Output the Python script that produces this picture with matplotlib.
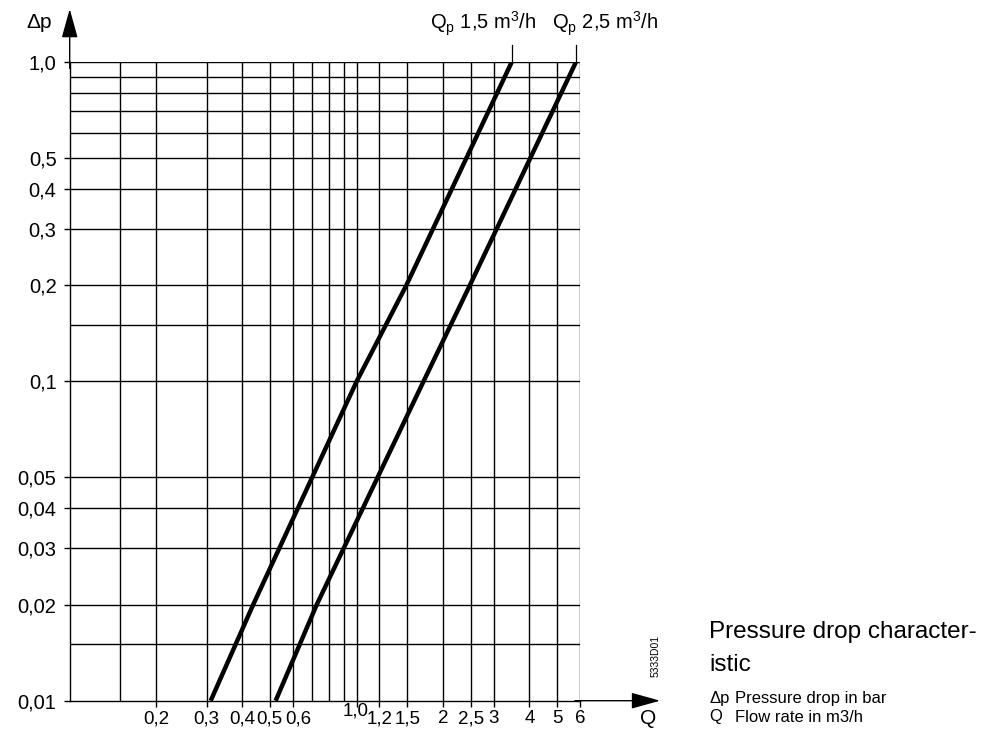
import matplotlib
matplotlib.use("Agg")
import matplotlib.pyplot as plt
import matplotlib.transforms as mtransforms

plt.rcParams["font.family"] = ["Liberation Sans", "DejaVu Sans"]

# Pressure drop levels (bar) and flow rates (m3/h)
dp_levels = [0.01, 0.02, 0.1, 0.2, 1.0]
q_15 = [0.31, 0.436, 1.0, 1.49, 3.47]
q_25 = [0.522, 0.726, 1.71, 2.48, 5.81]
curve_names = ["Q$_\\mathregular{p}$ 1,5 m$^\\mathregular{3}$/h",
               "Q$_\\mathregular{p}$ 2,5 m$^\\mathregular{3}$/h"]

# Grid lines
x_grid = [0.15, 0.2, 0.3, 0.4, 0.5, 0.6, 0.7, 0.8, 0.9, 1.0, 1.2, 1.5, 2, 2.5, 3, 4, 5, 6]
y_grid = [0.015, 0.02, 0.03, 0.04, 0.05, 0.1, 0.15, 0.2, 0.3, 0.4, 0.5, 0.6, 0.7, 0.8, 0.9, 1.0]

# Tick labels
x_ticks = [0.2, 0.3, 0.4, 0.5, 0.6, 1.0, 1.2, 1.5, 2, 2.5, 3, 4, 5, 6]
x_labels = ["0,2", "0,3", "0,4", "0,5", "0,6", "1,0", "1,2", "1,5", "2", "2,5", "3", "4", "5", "6"]
y_ticks = [0.01, 0.02, 0.03, 0.04, 0.05, 0.1, 0.2, 0.3, 0.4, 0.5, 1.0]
y_labels = ["0,01", "0,02", "0,03", "0,04", "0,05", "0,1", "0,2", "0,3", "0,4", "0,5", "1,0"]

W, H = 1003, 738
fig = plt.figure(figsize=(W / 100, H / 100), dpi=100)
ax = fig.add_axes([69.7 / W, 1 - 700.7 / H, 510.3 / W, 638.7 / H])
ax.set_xscale("log")
ax.set_yscale("log")
ax.set_xlim(0.1, 6)
ax.set_ylim(0.01, 1.0)

for side in ["top", "right"]:
    ax.spines[side].set_visible(False)
for side in ["left", "bottom"]:
    ax.spines[side].set_linewidth(1.0)

for x in x_grid:
    ax.axvline(x, color="black", lw=1.0, zorder=1)
for y in y_grid:
    ax.axhline(y, color="black", lw=1.0, zorder=1)

ax.set_xticks(x_ticks, x_labels, fontsize=13.5)
ax.set_yticks(y_ticks, y_labels, fontsize=14.5)
ax.set_xticks([], minor=True)
ax.set_yticks([], minor=True)
ax.tick_params(axis="x", length=4, width=1.0, pad=3)
ax.tick_params(axis="y", length=4.5, width=1.0, pad=5)

# small shifts of crowded x labels, "1,0" sits a little higher
shifts = {"0,5": (-1, 0), "0,6": (4, 0), "1,0": (-1, 6)}
for lab in ax.get_xticklabels():
    if lab.get_text() in shifts:
        dx, dy = shifts[lab.get_text()]
        off = mtransforms.ScaledTranslation(dx / 72, dy / 72, fig.dpi_scale_trans)
        lab.set_transform(lab.get_transform() + off)

# curves
ax.plot(q_15, dp_levels, color="black", lw=3.2, solid_capstyle="butt", zorder=3)
ax.plot(q_25, dp_levels, color="black", lw=3.2, solid_capstyle="butt", zorder=3)

# leader lines up to the curve names
blend = mtransforms.blended_transform_factory(ax.transData, ax.transAxes)
for q in [q_15[-1], q_25[-1]]:
    ax.plot([q, q], [1.0, 1.027], color="black", lw=0.9, transform=blend, clip_on=False)

fig.text(430 / W, 1 - 24 / H, curve_names[0], fontsize=14.5, va="center", ha="left")
fig.text(552 / W, 1 - 24 / H, curve_names[1], fontsize=14.5, va="center", ha="left")

# axis arrows
arrow = dict(arrowstyle="-|>,head_length=1.8,head_width=0.5", mutation_scale=10,
             color="black", lw=1.0, shrinkA=0, shrinkB=0)
ax.annotate("", xy=(1.157, 0), xytext=(0.99, 0), xycoords="axes fraction", arrowprops=arrow)
ax.annotate("", xy=(0, 1.083), xytext=(0, 0.99), xycoords="axes fraction", arrowprops=arrow)

fig.text(39 / W, 1 - 22 / H, "\u0394p", fontsize=15, ha="center", va="center")
fig.text(648 / W, 1 - 719 / H, "Q", fontsize=15, ha="center", va="center")
fig.text(656 / W, 1 - 656 / H, "5333D01", fontsize=7.5, rotation=90, ha="center", va="center")

# caption
fig.text(709 / W, 1 - 632 / H, "Pressure drop character-", fontsize=17.5, va="center")
fig.text(709 / W, 1 - 665 / H, "istic", fontsize=17.5, va="center")
fig.text(709 / W, 1 - 698 / H, "\u0394p", fontsize=12, va="center")
fig.text(735 / W, 1 - 698 / H, "Pressure drop in bar", fontsize=12, va="center")
fig.text(709 / W, 1 - 717 / H, "Q", fontsize=12, va="center")
fig.text(735 / W, 1 - 717 / H, "Flow rate in m3/h", fontsize=12, va="center")

fig.savefig("out.png", dpi=100)
